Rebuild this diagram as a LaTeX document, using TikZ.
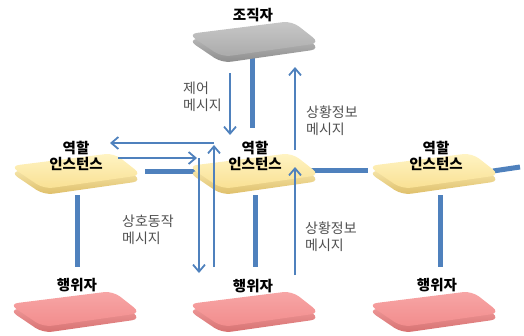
\documentclass[tikz,border=0pt]{standalone}
\usepackage{fontspec}
\setmainfont{Noto Sans CJK KR}
\usetikzlibrary{arrows.meta}

\definecolor{linkblue}{RGB}{79,129,189}
\definecolor{msggray}{RGB}{80,80,80}
\definecolor{orgtop}{RGB}{200,200,200}
\definecolor{orgbot}{RGB}{170,170,170}
\definecolor{orgrim}{RGB}{140,140,140}
\definecolor{roletop}{RGB}{255,244,196}
\definecolor{rolebot}{RGB}{249,224,146}
\definecolor{rolerim}{RGB}{222,190,104}
\definecolor{acttop}{RGB}{247,166,166}
\definecolor{actbot}{RGB}{242,140,140}
\definecolor{actrim}{RGB}{214,112,112}

% A flat slab seen in perspective: #1,#2 centre, #3/#4 face shading, #5 rim
\newcommand\slab[5]{%
  \shade[top color=#3, bottom color=#5, rounded corners=9pt]
    (#1-68,#2-2) -- (#1+36,#2-15) -- (#1+64,#2+7) -- (#1-34,#2+21) -- cycle;
  \shade[top color=#3, bottom color=#4, rounded corners=9pt]
    (#1-68,#2-8) -- (#1+36,#2-21) -- (#1+64,#2+1) -- (#1-34,#2+15) -- cycle;
}

\tikzset{
  link/.style={line width=5pt, linkblue},
  msg/.style={line width=1.8pt, linkblue, -{Straight Barb[length=7pt,width=12pt,line width=1.8pt]}},
  title/.style={font=\fontsize{14.5}{16}\selectfont\bfseries, align=center, text=black},
  note/.style={font=\fontsize{14}{17}\selectfont, align=left, text=msggray, anchor=west, inner sep=0pt},
}

\begin{document}
\begin{tikzpicture}[x=1pt, y=-1pt]
\useasboundingbox (0,0) rectangle (524,335);

% connector end points
\coordinate (orgB) at (252,58);
\coordinate (roleMT) at (252,128);
\coordinate (roleLR) at (145,171);
\coordinate (roleML) at (200,171);
\coordinate (roleMR) at (307,170);
\coordinate (roleRL) at (368,170);
\coordinate (roleRR) at (493,171);
\coordinate (roleRout) at (520,167);
\coordinate (roleLB) at (77,195);
\coordinate (actLT) at (77,267);
\coordinate (roleMB) at (255,195);
\coordinate (actMT) at (255,267);
\coordinate (roleRB) at (440,195);
\coordinate (actRT) at (440,267);

\coordinate (ctlS) at (230,73);
\coordinate (ctlE) at (230,135);
\coordinate (stUS) at (295,150);
\coordinate (stUE) at (295,67);
\coordinate (stLS) at (295,275);
\coordinate (stLE) at (295,167);
\coordinate (backS) at (214,267);
\coordinate (backC) at (214,145);
\coordinate (backH) at (214,143);
\coordinate (backE) at (110,143);
\coordinate (fwdS) at (118,158);
\coordinate (fwdE) at (197,158);
\coordinate (fwdV) at (199,158);
\coordinate (fwdD) at (199,273);

% structural links (behind the slabs)
\draw[link] (orgB) -- (roleMT);
\draw[link] (roleLR) -- (roleML);
\draw[link] (roleMR) -- (roleRL);
\draw[link] (roleRR) -- (roleRout);
\draw[link] (roleLB) -- (actLT);
\draw[link] (roleMB) -- (actMT);
\draw[link] (roleRB) -- (actRT);

% slabs
\slab{256}{42}{orgtop}{orgbot}{orgrim}
\slab{78}{174}{roletop}{rolebot}{rolerim}
\slab{256}{174}{roletop}{rolebot}{rolerim}
\slab{436}{174}{roletop}{rolebot}{rolerim}
\slab{77}{312}{acttop}{actbot}{actrim}
\slab{256}{312}{acttop}{actbot}{actrim}
\slab{436}{312}{acttop}{actbot}{actrim}

% messages
\draw[msg] (ctlS) -- (ctlE);
\draw[msg] (stUS) -- (stUE);
\draw[msg] (stLS) -- (stLE);
\draw[msg] (backS) -- (backC);
\draw[msg] (backH) -- (backE);
\draw[msg] (fwdS) -- (fwdE);
\draw[msg] (fwdV) -- (fwdD);

% labels
\node[title] (org) at (253,15) {조직자};
\node[title] (roleL) at (76,156) {역할\\인스턴스};
\node[title] (roleM) at (255,156) {역할\\인스턴스};
\node[title] (roleR) at (436,156) {역할\\인스턴스};
\node[title] (actL) at (77,285) {행위자};
\node[title] (actM) at (253,286) {행위자};
\node[title] (actR) at (437,285) {행위자};

\node[note] (ctlTxt) at (183,97) {제어\\메시지};
\node[note] (stUTxt) at (306,121) {상황정보\\메시지};
\node[note] (actTxt) at (122,230) {상호동작\\메시지};
\node[note] (stLTxt) at (305,237) {상황정보\\메시지};
\end{tikzpicture}
\end{document}
